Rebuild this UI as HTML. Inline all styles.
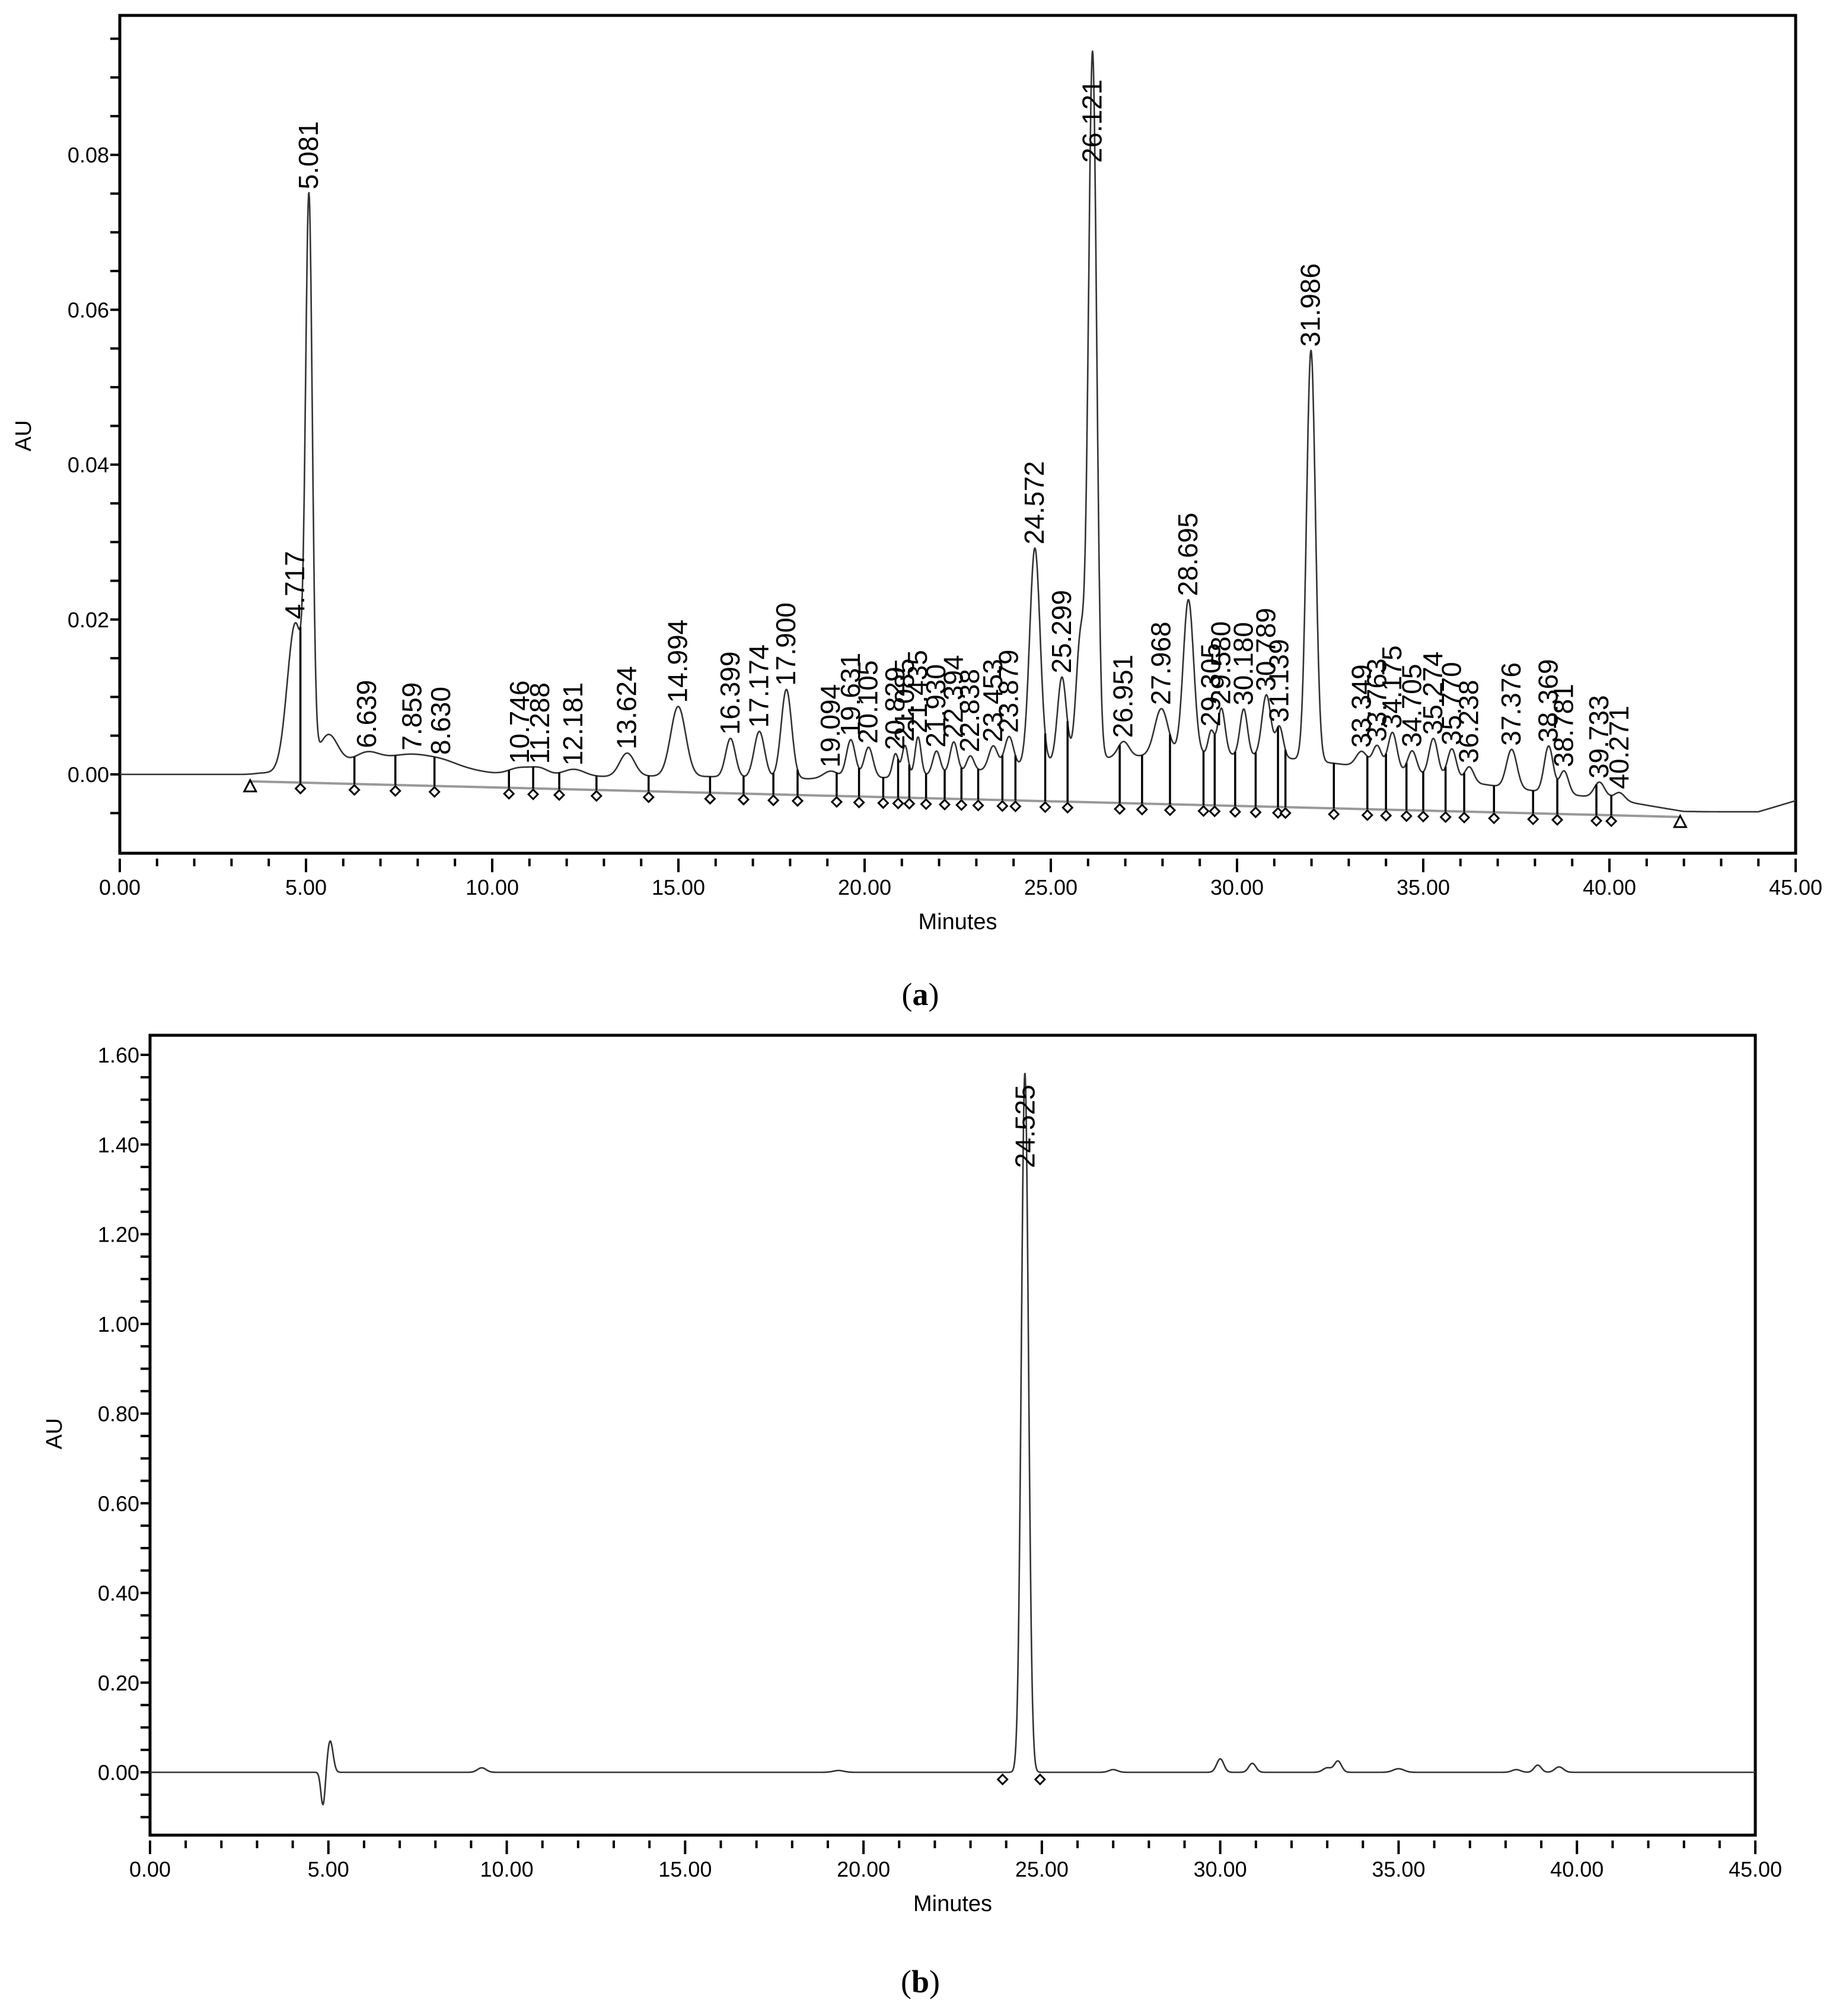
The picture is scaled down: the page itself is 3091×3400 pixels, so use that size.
<!DOCTYPE html>
<html><head><meta charset="utf-8"><style>
html,body{margin:0;padding:0;background:#fff}
svg{display:block}
text{font-family:"Liberation Sans",sans-serif;fill:#000}
</style></head><body>
<svg id="fig" width="3091" height="3400" viewBox="0 0 3091 3400" xmlns="http://www.w3.org/2000/svg">
<g id="chartA"></g>
<g id="chartB"></g>
<text x="1552" y="1695" font-size="54" text-anchor="middle" style="font-family:'Liberation Serif',serif">(<tspan font-weight="bold">a</tspan>)</text>
<text x="1552" y="3360" font-size="54" text-anchor="middle" style="font-family:'Liberation Serif',serif">(<tspan font-weight="bold">b</tspan>)</text>
</svg>
<script>
// ---- Chart A data ----
const peakTimesA = [4.717,5.081,5.6,6.639,7.859,8.630,10.746,11.288,12.181,13.624,14.994,16.399,17.174,17.900,19.094,19.631,20.105,20.829,21.085,21.435,21.930,22.394,22.838,23.453,23.879,24.572,25.299,25.8,26.121,26.951,27.968,28.695,29.305,29.580,30.180,30.789,31.139,31.986,33.349,33.763,34.175,34.705,35.274,35.770,36.238,37.376,38.369,38.781,39.733,40.271];
const peakHeightsA = [0.019,0.069,0.004,0.001,0.0005,0.0005,0.001,0.001,0.001,0.003,0.009,0.005,0.006,0.0115,0.001,0.005,0.004,0.003,0.004,0.005,0.003,0.004,0.002,0.003,0.004,0.028,0.011,0.016,0.091,0.002,0.006,0.020,0.003,0.006,0.006,0.008,0.004,0.053,0.002,0.003,0.005,0.003,0.005,0.004,0.002,0.005,0.006,0.003,0.002,0.001];
const peakWidthsA = [0.22,0.09,0.25,0.3,0.4,0.4,0.3,0.25,0.3,0.2,0.2,0.13,0.14,0.14,0.2,0.12,0.12,0.08,0.08,0.08,0.1,0.1,0.1,0.12,0.12,0.14,0.12,0.12,0.11,0.15,0.18,0.14,0.08,0.1,0.1,0.12,0.1,0.12,0.15,0.12,0.12,0.12,0.12,0.12,0.12,0.14,0.12,0.12,0.14,0.14];
const humpTimesA = [7.5, 29.5, 15];
const humpHeightsA = [0.0025, 0.0055, 0.001];
const humpWidthsA = [1.6, 5.5, 3];
const driftTimesA = [0,5,10,20,30,40,42,44,45];
const driftValuesA = [0,0,-0.0008,-0.002,-0.003,-0.004,-0.0052,-0.005,-0.0035];
const peakLabelsA = ["4.717","5.081","6.639","7.859","8.630","10.746","11.288","12.181","13.624","14.994","16.399","17.174","17.900","19.094","19.631","20.105","20.829","21.085","21.435","21.930","22.394","22.838","23.453","23.879","24.572","25.299","26.121","26.951","27.968","28.695","29.305","29.580","30.180","30.789","31.139","31.986","33.349","33.763","34.175","34.705","35.274","35.770","36.238","37.376","38.369","38.781","39.733","40.271"];
const dropTimesA = [4.85,6.3,7.4,8.45,10.45,11.1,11.8,12.8,14.2,15.85,16.75,17.55,18.2,19.25,19.85,20.5,20.9,21.2,21.65,22.15,22.6,23.05,23.7,24.05,24.85,25.45,26.85,27.45,28.2,29.1,29.4,29.95,30.5,31.1,31.3,32.6,33.5,34.0,34.55,35.0,35.6,36.1,36.9,37.95,38.6,39.65,40.05];
const baseStartA = [3.5,-0.0009];
const baseEndA = [41.9,-0.0055];
const yTicksA = ["0.00","0.02","0.04","0.06","0.08"];
const xTickLabels = ["0.00","5.00","10.00","15.00","20.00","25.00","30.00","35.00","40.00","45.00"];

// ---- Chart B data ----
const peakTimesB = [4.85,5.05,9.3,19.3,24.525,27.0,30.0,30.9,33.0,33.3,35.0,38.3,38.9,39.5];
const peakHeightsB = [-0.075,0.07,0.01,0.004,1.56,0.006,0.03,0.02,0.01,0.025,0.008,0.006,0.016,0.012];
const peakWidthsB = [0.06,0.08,0.12,0.15,0.1,0.12,0.1,0.1,0.12,0.1,0.15,0.12,0.1,0.12];
const peakLabelsB = ["24.525"];
const dropTimesB = [23.9,24.95];
const yTicksB = ["0.00","0.20","0.40","0.60","0.80","1.00","1.20","1.40","1.60"];

const NS="http://www.w3.org/2000/svg";
function mk(parent,tag,attrs){const e=document.createElementNS(NS,tag);for(const k in attrs)e.setAttribute(k,attrs[k]);parent.appendChild(e);return e;}
function interp(xs,ys,t){if(t<=xs[0])return ys[0];for(let i=1;i<xs.length;i++){if(t<=xs[i]){const f=(t-xs[i-1])/(xs[i]-xs[i-1]);return ys[i-1]+f*(ys[i]-ys[i-1]);}}return ys[ys.length-1];}
function gsum(ts,hs,ws,t){let s=0;for(let i=0;i<ts.length;i++){const d=(t-ts[i])/ws[i];s+=hs[i]*Math.exp(-0.5*d*d);}return s;}

function drawAxes(g,o){
  const f=mk(g,'rect',{x:o.L,y:o.T,width:o.R-o.L,height:o.B-o.T,fill:'none',stroke:'#000','stroke-width':5});
  
  
  const X=o.X,Y=o.Y;
  for(let m=0;m<=45;m++){
    const major=m%5===0;
    const t=mk(g,'line',{x1:X(m),x2:X(m),y1:o.B+9,y2:o.B+(major?32:22),stroke:'#000','stroke-width':4});
    
    
  }
  xTickLabels.forEach((lab,i)=>{
    const tx=mk(g,'text',{x:X(i*5),y:o.B+70,'font-size':36,'text-anchor':'middle'});tx.textContent=lab;
    
    
  });
  const xt=mk(g,'text',{x:(o.L+o.R)/2,y:o.B+128,'font-size':38,'text-anchor':'middle'});xt.textContent='Minutes';
  
  
  for(let v=o.yMinTick;v<=o.yMaxTick+1e-9;v+=o.minor){
    const yy=Y(v);if(yy<o.T+2||yy>o.B-2)continue;
    const t=mk(g,'line',{x1:o.L-16,x2:o.L,y1:yy,y2:yy,stroke:'#000','stroke-width':4});
    
    
  }
  o.yLabels.forEach(lab=>{
    const v=parseFloat(lab);
    const tx=mk(g,'text',{x:o.L-18,y:Y(v)+13,'font-size':36,'text-anchor':'end'});tx.textContent=lab;
    
    
  });
  const yt=mk(g,'text',{x:0,y:0,'font-size':38,'text-anchor':'middle',transform:`translate(${o.ytx},${o.yty}) rotate(-90)`});yt.textContent='AU';
  
  
}
function diamond(g,x,y){
  const d=mk(g,'path',{d:`M${x} ${y-8}L${x+8} ${y}L${x} ${y+8}L${x-8} ${y}Z`,fill:'#fff',stroke:'#000','stroke-width':3});
  
  
}
function tri(g,x,y){
  const d=mk(g,'path',{d:`M${x} ${y-10}L${x+10} ${y+9}L${x-10} ${y+9}Z`,fill:'#fff',stroke:'#000','stroke-width':3});
  
  
}

// ---------- Chart A ----------
(function(){
  const g=document.getElementById('chartA');
  const o={L:202,R:3028,T:26,B:1439};
  const y0=1306, pxPerAU=130.6/0.01;
  o.X=t=>o.L+(t/45)*(o.R-o.L);
  o.Y=v=>y0-v*pxPerAU;
  o.yMinTick=-0.005;o.yMaxTick=0.095;o.minor=0.005;o.yLabels=yTicksA;o.ytx=52;o.yty=735;
  drawAxes(g,o);
  const curve=t=>interp(driftTimesA,driftValuesA,t)+gsum(peakTimesA,peakHeightsA,peakWidthsA,t)+gsum(humpTimesA,humpHeightsA,humpWidthsA,t)*(t>3.8?1:Math.exp(-Math.pow((3.8-t)/0.3,2)));
  const base=t=>baseStartA[1]+(t-baseStartA[0])/(baseEndA[0]-baseStartA[0])*(baseEndA[1]-baseStartA[1]);
  const bl=mk(g,'line',{x1:o.X(baseStartA[0]),y1:o.Y(baseStartA[1]),x2:o.X(baseEndA[0]),y2:o.Y(baseEndA[1]),stroke:'#999','stroke-width':4});
  
  
  let d='';
  for(let t=0;t<=45.0001;t+=0.01){d+=(d?'L':'M')+o.X(t).toFixed(1)+' '+o.Y(curve(t)).toFixed(1);}
  const p=mk(g,'path',{d:d,fill:'none',stroke:'#333','stroke-width':2.6,'stroke-linejoin':'round'});
  
  
  dropTimesA.forEach(t=>{
    const l=mk(g,'line',{x1:o.X(t),x2:o.X(t),y1:o.Y(curve(t)),y2:o.Y(base(t)),stroke:'#000','stroke-width':3.5});
    
    
    diamond(g,o.X(t),o.Y(base(t))+10);
  });
  tri(g,o.X(baseStartA[0]),o.Y(baseStartA[1])+8);
  tri(g,o.X(baseEndA[0]),o.Y(baseEndA[1])+8);
  peakLabelsA.forEach(lab=>{
    const t=parseFloat(lab);const top=o.Y(curve(t));
    const len=lab.length*25.6;
    let start=top-6;
    if(start-len<o.T+95) start=o.T+95+len;
    const tx=mk(g,'text',{x:0,y:0,'font-size':46,'text-anchor':'start',transform:`translate(${o.X(t)+15},${start}) rotate(-90)`});
    tx.textContent=lab;
    
    
  });
})();

// ---------- Chart B ----------
(function(){
  const g=document.getElementById('chartB');
  const o={L:253,R:2960,T:1746,B:3095};
  const y0=2989, pxPerAU=(2989-1779)/1.6;
  o.X=t=>o.L+(t/45)*(o.R-o.L);
  o.Y=v=>y0-v*pxPerAU;
  o.yMinTick=-0.15;o.yMaxTick=1.65;o.minor=0.05;o.yLabels=yTicksB;o.ytx=104;o.yty=2418;
  drawAxes(g,o);
  const curve=t=>gsum(peakTimesB,peakHeightsB,peakWidthsB,t);
  let d='';
  for(let t=0;t<=45.0001;t+=0.01){d+=(d?'L':'M')+o.X(t).toFixed(1)+' '+o.Y(curve(t)).toFixed(1);}
  const p=mk(g,'path',{d:d,fill:'none',stroke:'#333','stroke-width':2.6,'stroke-linejoin':'round'});
  
  
  dropTimesB.forEach(t=>{diamond(g,o.X(t),o.Y(0)+12);});
  peakLabelsB.forEach(lab=>{
    const t=parseFloat(lab);
    const tx=mk(g,'text',{x:0,y:0,'font-size':46,'text-anchor':'end',transform:`translate(${o.X(t)+16},${o.Y(curve(t))+20}) rotate(-90)`});
    tx.textContent=lab;
    
    
  });
})();
</script>
</body></html>
